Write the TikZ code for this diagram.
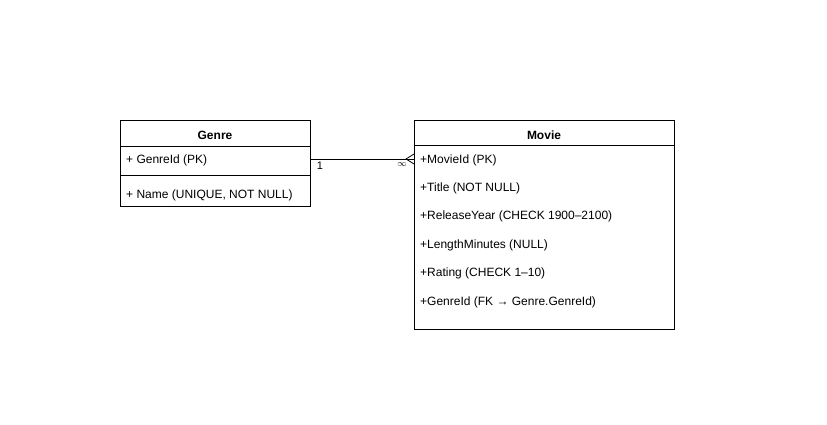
\documentclass[tikz,border=0pt]{standalone}
\usepackage{fontspec}
\setmainfont{Liberation Sans}
\begin{document}
\begin{tikzpicture}[x=1pt,y=-1pt,
  box/.style={draw=black, line width=0.8pt},
  row/.style={anchor=west, inner sep=0pt, font=\fontsize{12}{14}\selectfont},
  title/.style={anchor=center, inner sep=0pt, font=\fontsize{12}{14}\selectfont\bfseries},
  lbl/.style={inner sep=0pt, font=\fontsize{11}{13}\selectfont}]
\useasboundingbox (0,0) rectangle (827,425);
\fill[white] (0,0) rectangle (827,425);
% Genre
\node[box, minimum width=190pt, minimum height=86pt, anchor=north west, inner sep=0pt] (genre) at (120,120) {};
\draw[line width=0.8pt] (120,146) -- (310,146);
\draw[line width=0.8pt] (120,175.5) -- (310,175.5);
\node[title] (gt) at (215,135) {Genre};
\node[row] (g1) at (126,160) {+ GenreId (PK)};
\node[row] (g2) at (126,195) {+ Name (UNIQUE, NOT NULL)};
% Movie
\node[box, minimum width=260pt, minimum height=209pt, anchor=north west, inner sep=0pt] (movie) at (414,120) {};
\draw[line width=0.8pt] (414,145.5) -- (674,145.5);
\node[title] (mt) at (544,135) {Movie};
\node[row] (m1) at (420,160) {+MovieId (PK)};
\node[row] (m2) at (420,188) {+Title (NOT NULL)};
\node[row] (m3) at (420,216) {+ReleaseYear (CHECK 1900–2100)};
\node[row] (m4) at (420,245) {+LengthMinutes (NULL)};
\node[row] (m5) at (420,273) {+Rating (CHECK 1–10)};
\node[row] (m6) at (420,302) {+GenreId (FK \textrightarrow\ Genre.GenreId)};
% connector
\coordinate (a) at (310,159);
\coordinate (b) at (414,159);
\coordinate (apex) at (406,159);
\draw[line width=0.8pt] (a) -- (b);
\draw[line width=0.8pt] (b |- 0,154) -- (apex) -- (b |- 0,164);
\node[lbl] (one) at (320,166) {1};
\node[lbl] (many) at (402,165) {\fontsize{9}{10}\selectfont$\infty$};
\end{tikzpicture}
\end{document}
